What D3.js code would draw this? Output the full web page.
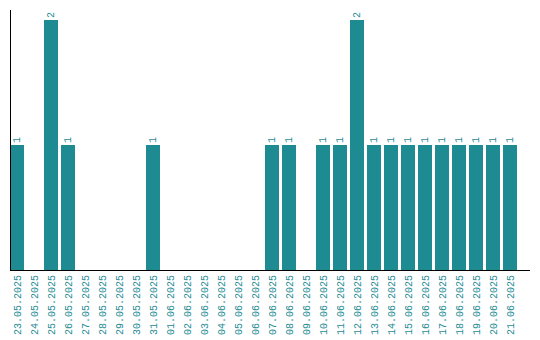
<!DOCTYPE html>
<html>
<head>
<meta charset="utf-8">
<script src="https://cdn.jsdelivr.net/npm/d3@7"></script>
<style>
  body { margin: 0; background: #fff; }
  text { font-family: "Liberation Mono", monospace; font-size: 10px; fill: #1e8b92; }
</style>
</head>
<body>
<svg id="svg"></svg>
<script>
const dates = ["23.05.2025", "24.05.2025", "25.05.2025", "26.05.2025", "27.05.2025", "28.05.2025",
  "29.05.2025", "30.05.2025", "31.05.2025", "01.06.2025", "02.06.2025", "03.06.2025", "04.06.2025",
  "05.06.2025", "06.06.2025", "07.06.2025", "08.06.2025", "09.06.2025", "10.06.2025", "11.06.2025",
  "12.06.2025", "13.06.2025", "14.06.2025", "15.06.2025", "16.06.2025", "17.06.2025", "18.06.2025",
  "19.06.2025", "20.06.2025", "21.06.2025"]
const counts = [1, 0, 2, 1, 0, 0, 0, 0, 1, 0, 0, 0, 0, 0, 0, 1, 1, 0, 1, 1, 2, 1, 1, 1, 1, 1, 1, 1, 1, 1]

const color = "#1e8b92"
const svg = d3.select("#svg").attr("width", 540).attr("height", 340)

const x = d3.scaleBand()
  .domain(dates)
  .range([10, 517])
  .paddingInner(3 / 17)
  .paddingOuter(0)

const y = d3.scaleLinear().domain([0, 2]).range([270, 20])

const data = dates.map((d, i) => ({ date: d, value: counts[i] }))

svg.selectAll("rect.bar")
  .data(data.filter(d => d.value > 0))
  .enter()
  .append("rect")
  .classed("bar", true)
  .attr("x", d => x(d.date))
  .attr("y", d => y(d.value))
  .attr("width", x.bandwidth())
  .attr("height", d => y(0) - y(d.value))
  .attr("fill", color)

// value labels above bars
svg.selectAll("text.val")
  .data(data.filter(d => d.value > 0))
  .enter()
  .append("text")
  .classed("val", true)
  .attr("transform", d => `translate(${x(d.date) + x.bandwidth() / 2 + 3}, ${y(d.value) - 2}) rotate(-90)`)
  .attr("text-anchor", "start")
  .text(d => d.value)

// axes lines
svg.append("line")
  .attr("x1", 10.5).attr("x2", 10.5).attr("y1", 10).attr("y2", 270)
  .attr("stroke", "#000")
svg.append("line")
  .attr("x1", 10).attr("x2", 530).attr("y1", 270.5).attr("y2", 270.5)
  .attr("stroke", "#000")

// date labels
svg.selectAll("text.tick")
  .data(dates)
  .enter()
  .append("text")
  .classed("tick", true)
  .attr("transform", d => `translate(${x(d) + x.bandwidth() / 2 + 4}, 275) rotate(-90)`)
  .attr("text-anchor", "end")
  .text(d => d)
</script>
</body>
</html>
